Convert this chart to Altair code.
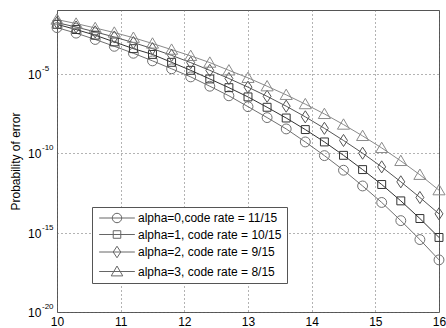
import altair as alt
import pandas as pd

snr = [10.0, 10.3, 10.6, 10.9, 11.2, 11.5, 11.8, 12.1, 12.4, 12.7, 13.0,
       13.3, 13.6, 13.9, 14.2, 14.5, 14.8, 15.1, 15.4, 15.7, 16.0]

series_labels = ["alpha=0,code rate = 11/15",
                 "alpha=1, code rate = 10/15",
                 "alpha=2, code rate = 9/15",
                 "alpha=3, code rate = 8/15"]

pe_alpha0 = [7.8e-3, 3.5e-3, 1.4e-3, 5.2e-4, 1.9e-4, 6.3e-5, 2.0e-5, 6.2e-6, 1.6e-6, 4.0e-7, 8.3e-8,
             1.7e-8, 3.3e-9, 5.0e-10, 6.9e-11, 8.3e-12, 8.5e-13, 7.8e-14, 5.6e-15, 3.6e-16, 1.9e-17]
pe_alpha1 = [1.26e-2, 5.9e-3, 2.6e-3, 9.8e-4, 3.7e-4, 1.6e-4, 5.1e-5, 1.6e-5, 4.6e-6, 1.3e-6, 3.4e-7,
             7.6e-8, 1.6e-8, 3.0e-9, 5.0e-10, 7.2e-11, 9.1e-12, 1.05e-12, 9.8e-14, 7.6e-15, 4.9e-16]
pe_alpha2 = [1.6e-2, 8.5e-3, 4.2e-3, 2.0e-3, 8.9e-4, 3.7e-4, 1.4e-4, 4.9e-5, 1.6e-5, 4.9e-6, 1.4e-6,
             3.7e-7, 8.9e-8, 1.9e-8, 3.6e-9, 6.2e-10, 9.8e-11, 1.35e-11, 1.55e-12, 1.6e-13, 1.5e-14]
pe_alpha3 = [2.5e-2, 1.4e-2, 7.4e-3, 3.8e-3, 1.8e-3, 7.8e-4, 3.2e-4, 1.3e-4, 4.9e-5, 1.6e-5, 5.4e-6,
             1.6e-6, 4.6e-7, 1.2e-7, 2.9e-8, 6.2e-9, 1.2e-9, 2.1e-10, 3.2e-11, 4.3e-12, 4.6e-13]

x_ticks = [10, 11, 12, 13, 14, 15, 16]
y_tick_values = [1e-5, 1e-10, 1e-15, 1e-20]
y_tick_exps = ["-5", "-10", "-15", "-20"]

series_colors = ["#707070", "#333333", "#555555", "#8a8a8a"]
marker_paths = [
    "M0.9,0A0.9,0.9 0 1,1 -0.9,0A0.9,0.9 0 1,1 0.9,0Z",
    "M-0.72,-0.72H0.72V0.72H-0.72Z",
    "M0,-1.1L0.72,0L0,1.1L-0.72,0Z",
    "M0,-1.04L1.1,0.84L-1.1,0.84Z",
]
legend_paths = [
    "M-3.4,0H3.4M0.9,0A0.9,0.9 0 1,1 -0.9,0A0.9,0.9 0 1,1 0.9,0Z",
    "M-3.4,0H3.4M-0.72,-0.72H0.72V0.72H-0.72Z",
    "M-3.4,0H3.4M0,-1.1L0.72,0L0,1.1L-0.72,0Z",
    "M-3.4,0H3.4M0,-1.04L1.1,0.84L-1.1,0.84Z",
]

rows = []
for lab, vals in zip(series_labels, [pe_alpha0, pe_alpha1, pe_alpha2, pe_alpha3]):
    for xv, yv in zip(snr, vals):
        rows.append({"snr": xv, "pe": yv, "series": lab})
df = pd.DataFrame(rows)

ticks_df = pd.DataFrame({"pe": y_tick_values, "e": y_tick_exps})

FONT = "Liberation Sans"
TITLE = "Probability of error"

x_enc = alt.X("snr:Q",
              scale=alt.Scale(domain=[10, 16], nice=False, zero=False),
              axis=alt.Axis(values=x_ticks, format="d", title=None, grid=True, ticks=False,
                            domain=False, labelFontSize=12, labelFont=FONT, labelColor="#000",
                            labelPadding=4, labelFlush=False,
                            gridDash=[1, 3], gridColor="#666", gridWidth=1))
y_scale = alt.Scale(type="log", domain=[1e-20, 1e-1], nice=False)
y_enc = alt.Y("pe:Q", scale=y_scale, title=TITLE,
              axis=alt.Axis(values=y_tick_values, labels=False, ticks=False, domain=False,
                            grid=True, gridDash=[1, 3], gridColor="#666", gridWidth=1,
                            title=TITLE, titleFont=FONT, titleFontSize=12,
                            titleFontWeight="normal", titleColor="#000",
                            titleX=-42, titleY=151, titleAngle=-90,
                            titleAlign="center", titleBaseline="middle"))

color_enc = alt.Color("series:N", scale=alt.Scale(domain=series_labels, range=series_colors),
                      legend=None)

base = alt.Chart(df)

lines = base.mark_line(strokeWidth=1, clip=True).encode(
    x=x_enc, y=y_enc, color=color_enc, detail="series:N")

points = base.mark_point(filled=False, size=121, strokeWidth=1, opacity=1).encode(
    x="snr:Q", y=alt.Y("pe:Q", title=TITLE), color=color_enc,
    shape=alt.Shape("series:N", scale=alt.Scale(domain=series_labels, range=marker_paths),
                    legend=None))

legend_layer = base.mark_point(filled=False, size=110, opacity=0).encode(
    x="snr:Q", y=alt.Y("pe:Q", title=TITLE),
    shape=alt.Shape("series2:N",
                    scale=alt.Scale(domain=series_labels, range=legend_paths),
                    sort=series_labels,
                    legend=alt.Legend(title=None, orient="none", legendX=35, legendY=197,
                                      padding=5, fillColor="white", strokeColor="#555",
                                      labelFont=FONT, labelFontSize=12, labelColor="#000",
                                      symbolSize=110, symbolStrokeWidth=1,
                                      symbolStrokeColor="#666", symbolFillColor="transparent",
                                      symbolOpacity=1, symbolOffset=14, labelOffset=15,
                                      rowPadding=3.5, labelLimit=300))
).transform_calculate(series2="datum.series")

ten_text = alt.Chart(ticks_df).mark_text(
    text="10", align="left", baseline="middle", fontSize=12, font=FONT, color="#000", dy=1
).encode(x=alt.value(-29), y=alt.Y("pe:Q", title=TITLE))

exp_text = alt.Chart(ticks_df).mark_text(
    align="left", baseline="middle", fontSize=8, font=FONT, color="#000", dy=-5
).encode(x=alt.value(-15), y=alt.Y("pe:Q", title=TITLE), text="e:N")

chart = alt.layer(lines, points, legend_layer, ten_text, exp_text).resolve_scale(
    shape="independent"
).properties(
    width=382, height=302,
    autosize=alt.AutoSizeParams(type="none"),
    padding={"left": 57, "top": 10, "right": 7, "bottom": 16},
    background="white",
).configure_view(stroke="#555", strokeWidth=1)

chart.save("out.html", embed_options={"renderer": "svg", "actions": False})
